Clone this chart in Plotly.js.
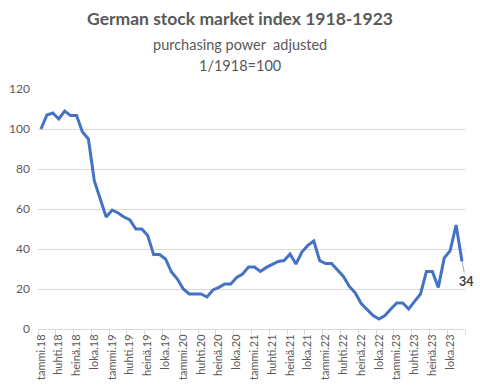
<!DOCTYPE html>
<html>
<head>
<meta charset="utf-8">
<script src="https://cdn.plot.ly/plotly-3.0.1.min.js"></script>
<style>html,body{margin:0;padding:0;background:#fff;}#chart{width:480px;height:392px;}</style>
</head>
<body>
<div id="chart"></div>
<script>
// ---- data ----
const monthNames = ['tammi','helmi','maalis','huhti','touko','kesä','heinä','elo','syys','loka','marras','joulu'];
const years = ['18','19','20','21','22','23'];
const indexValues = [
  // 1918
  100, 107, 108, 105, 109, 106.7, 106.7, 98.5, 95, 74, 65, 56,
  // 1919
  59.5, 58, 56, 54.5, 50, 50, 46.7, 37.2, 37.2, 35, 28.5, 25,
  // 1920
  20, 17.5, 17.5, 17.5, 16, 19.5, 20.8, 22.5, 22.5, 25.8, 27.5, 31,
  // 1921
  31, 28.8, 30.8, 32.5, 33.8, 34.2, 37.5, 32.5, 38.5, 41.8, 44, 34.2,
  // 1922
  32.7, 32.7, 29.7, 26.3, 21.3, 18, 12.7, 9.7, 6.7, 5, 6.7, 10,
  // 1923
  13, 13, 10, 13.8, 17.5, 28.8, 28.8, 20.8, 35.5, 39.2, 52, 33.8
];
const lastLabel = '34';

// ---- derived ----
const labels = [];
years.forEach(y => monthNames.forEach(m => labels.push(m + '.' + y)));
const xIdx = indexValues.map((_, i) => i);
const tickIdx = xIdx.filter(i => i % 3 === 0);
const tickText = tickIdx.map(i => labels[i]);
const boundaryTicks = [];
for (let i = 0; i <= indexValues.length; i += 3) boundaryTicks.push(i - 0.5);

const grey = '#595959';
const fontFam = 'Lato, "Open Sans", sans-serif';

const trace = {
  x: xIdx,
  y: indexValues,
  text: labels,
  type: 'scatter',
  mode: 'lines',
  line: {color: '#4472C4', width: 3},
  hoverinfo: 'text+y'
};

const layout = {
  width: 480, height: 392,
  margin: {l: 38, r: 15, t: 89, b: 63},
  paper_bgcolor: '#ffffff', plot_bgcolor: '#ffffff',
  font: {family: fontFam, color: grey, size: 12},
  showlegend: false,
  title: {
    text: '<b>German stock market index 1918-1923</b>',
    font: {family: fontFam, size: 17.5, color: grey},
    x: 0.5, xref: 'container', xanchor: 'center',
    y: 1 - 19/392, yref: 'container', yanchor: 'middle'
  },
  xaxis: {
    range: [-0.5, indexValues.length - 0.5],
    tickmode: 'array', tickvals: tickIdx, ticktext: tickText,
    tickangle: -90, ticks: '', showgrid: false, zeroline: false,
    showline: true, linecolor: '#d9d9d9', linewidth: 1,
    tickfont: {family: fontFam, size: 11, color: grey},
    minor: {tickmode: 'array', tickvals: boundaryTicks, ticks: 'outside', ticklen: 5, tickcolor: '#d9d9d9', showgrid: false},
    fixedrange: true
  },
  yaxis: {
    range: [0, 120], tickvals: [0, 20, 40, 60, 80, 100, 120],
    showgrid: true, gridcolor: '#d9d9d9', gridwidth: 1,
    zeroline: false, showline: false, ticks: '',
    tickfont: {family: fontFam, size: 12, color: grey},
    ticklabelstandoff: 7,
    fixedrange: true
  },
  annotations: [
    {text: 'purchasing power&nbsp; adjusted', xref: 'paper', yref: 'paper', x: (240-38)/427, y: 1 + (89-44)/240,
     xanchor: 'center', yanchor: 'middle', showarrow: false, font: {family: fontFam, size: 14.5, color: grey}},
    {text: '1/1918=100', xref: 'paper', yref: 'paper', x: (240-38)/427, y: 1 + (89-66)/240,
     xanchor: 'center', yanchor: 'middle', showarrow: false, font: {family: fontFam, size: 14.5, color: grey}},
    {text: '<b>' + lastLabel + '</b>', x: xIdx[xIdx.length-1], y: indexValues[indexValues.length-1],
     xref: 'x', yref: 'y', showarrow: true, arrowhead: 0, arrowwidth: 1, arrowcolor: '#a6a6a6',
     ax: 4, ay: 20, standoff: 1, font: {family: fontFam, size: 12.5, color: '#404040'}}
  ]
};

Plotly.newPlot('chart', [trace], layout, {displayModeBar: false, staticPlot: true});
</script>
</body>
</html>
